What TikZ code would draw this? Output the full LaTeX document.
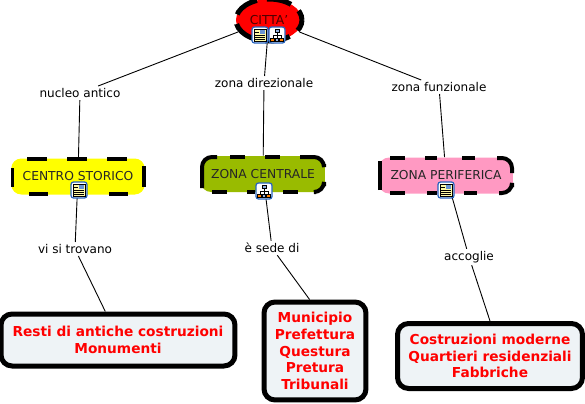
\documentclass[tikz,border=0pt]{standalone}
\usepackage{fontspec}
\setmainfont{DejaVu Sans}
\usetikzlibrary{shapes.geometric}
\definecolor{cittared}{RGB}{255,0,0}
\definecolor{storicoyellow}{RGB}{255,255,0}
\definecolor{centralegreen}{RGB}{153,187,0}
\definecolor{perifpink}{RGB}{255,153,194}
\definecolor{boxgrey}{RGB}{238,243,246}
\definecolor{iconblue}{RGB}{40,100,190}
\tikzset{
	concept/.style={font=\fontsize{7}{8.5}\selectfont, text=black!85, rounded corners=.2cm, inner sep=0pt},
	leafbox/.style={concept, draw=black, fill=boxgrey, text=red, align=center, font=\fontsize{7.8}{9.6}\selectfont\bfseries, line width=.1cm, rounded corners=.22cm},
	linklabel/.style={font=\fontsize{6.85}{8}\selectfont, inner sep=.04cm},
	link/.style={black, line width=.018cm},
	borderdash/.style={black, line width=.08cm, rounded corners=.2cm},
	iconframe/.style={fill=white, draw=iconblue, line width=.025cm, rounded corners=.05cm},
	docicon/.pic={
		\draw[iconframe] (-8,-8) rectangle (8,8);
		\draw[fill=yellow!35, draw=black, line width=.015cm] (-6,-6) rectangle (6,6);
		\fill[iconblue!70] (0,-5) rectangle (5,-1);
		\draw[black, line width=.015cm] (-5,-3) -- (-1,-3) (-5,0) -- (5,0) (-5,2) -- (5,2) (-5,4) -- (5,4);
	},
	treeicon/.pic={
		\draw[iconframe] (-8,-8) rectangle (8,8);
		\draw[black, line width=.015cm] (0,-3) -- (0,0) (-4,3) -- (-4,0) -- (4,0) -- (4,3) (0,0) -- (0,3);
		\draw[fill=iconblue!50, draw=black, line width=.012cm] (-2,-6) rectangle (2,-3);
		\draw[fill=orange, draw=black, line width=.012cm] (-6.5,3) rectangle (-2.5,6);
		\draw[fill=iconblue!50, draw=black, line width=.012cm] (-1.7,3) rectangle (1.7,6);
		\draw[fill=orange, draw=black, line width=.012cm] (2.5,3) rectangle (6.5,6);
	},
}
\begin{document}
\begin{tikzpicture}[x=.02cm,y=-.02cm]
	\useasboundingbox (0,0) rectangle (585,403);
	% concetti
	\node[ellipse, draw=black, fill=cittared, line width=.1cm, minimum width=1.32cm, minimum height=.84cm, inner sep=0pt, dash pattern=on .5cm off .2cm, dash phase=.3cm, font=\fontsize{7}{8.5}\selectfont, text=black!70!red] (citta) at (269,20) {CITTA'};
	\node[concept, fill=storicoyellow, minimum width=2.67cm, minimum height=.72cm] (storico) at (78,176.5) {CENTRO STORICO};
	\node[concept, fill=centralegreen, minimum width=2.48cm, minimum height=.72cm] (centrale) at (263,174) {ZONA CENTRALE};
	\node[concept, fill=perifpink, minimum width=2.68cm, minimum height=.72cm] (periferica) at (446,175.5) {ZONA PERIFERICA};
	\node[leafbox, minimum width=4.68cm, minimum height=1.04cm] (resti) at (118,340) {Resti di antiche costruzioni\\Monumenti};
	\node[leafbox, minimum width=2.04cm, minimum height=1.96cm] (municipio) at (315,351) {Municipio\\Prefettura\\Questura\\Pretura\\Tribunali};
	\node[leafbox, minimum width=3.7cm, minimum height=1.3cm] (moderne) at (490,356) {Costruzioni moderne\\Quartieri residenziali\\Fabbriche};
	% etichette
	\node[linklabel] (nucleo) at (80,93) {nucleo antico};
	\node[linklabel] (direzionale) at (264,83) {zona direzionale};
	\node[linklabel] (funzionale) at (439,87) {zona funzionale};
	\node[linklabel] (trovano) at (75,249) {vi si trovano};
	\node[linklabel] (sede) at (272,248) {è sede di};
	\node[linklabel] (accoglie) at (469,257) {accoglie};
	% collegamenti
	\draw[link] (citta) -- (nucleo);
	\draw[link] (nucleo) -- (storico);
	\draw[link] (citta) -- (direzionale);
	\draw[link] (direzionale) -- (centrale);
	\draw[link] (citta) -- (funzionale);
	\draw[link] (funzionale) -- (periferica);
	\draw[link] (storico) -- (trovano);
	\draw[link] (trovano) -- (resti.114);
	\draw[link] (centrale) -- (sede);
	\draw[link] (sede) -- (municipio.96);
	\draw[link] (periferica) -- (accoglie);
	\draw[link] (accoglie) -- (moderne.90);
	% icone
	\pic at (260,35) {docicon};
	\pic at (277,35) {treeicon};
	\pic at (79,190) {docicon};
	\pic at (264,191) {treeicon};
	\pic at (446,190) {docicon};
	% bordi tratteggiati
	\foreach \a/\b in {27/47,67/87,107/127} \draw[borderdash] (\a,159) -- (\b,159);
	\foreach \a/\b in {29/48,109/128} \draw[borderdash] (\a,194) -- (\b,194);
	\draw[borderdash] (12.5,168) -- (12.5,187);
	\draw[borderdash] (144,166) -- (144,187);
	\foreach \a/\b in {230/245,265/280} \draw[borderdash] (\a,157) -- (\b,157);
	\foreach \a/\b in {212/227,247/255,283/298} \draw[borderdash] (\a,192) -- (\b,192);
	\draw[borderdash] (202,188) -- (202,157) -- (217,157);
	\draw[borderdash] (300,157) -- (324,157) -- (324,164);
	\draw[borderdash] (316,192) -- (324,192) -- (324,186);
	\foreach \a/\b in {390/405,425/437,462/475} \draw[borderdash] (\a,158) -- (\b,158);
	\foreach \a/\b in {390/405,427/437,464/477} \draw[borderdash] (\a,193) -- (\b,193);
	\draw[borderdash] (380,190) -- (380,161);
	\draw[borderdash] (497,158) -- (512,158) -- (512,173);
	\draw[borderdash] (499,193) -- (512,193) -- (512,187);
\end{tikzpicture}
\end{document}
